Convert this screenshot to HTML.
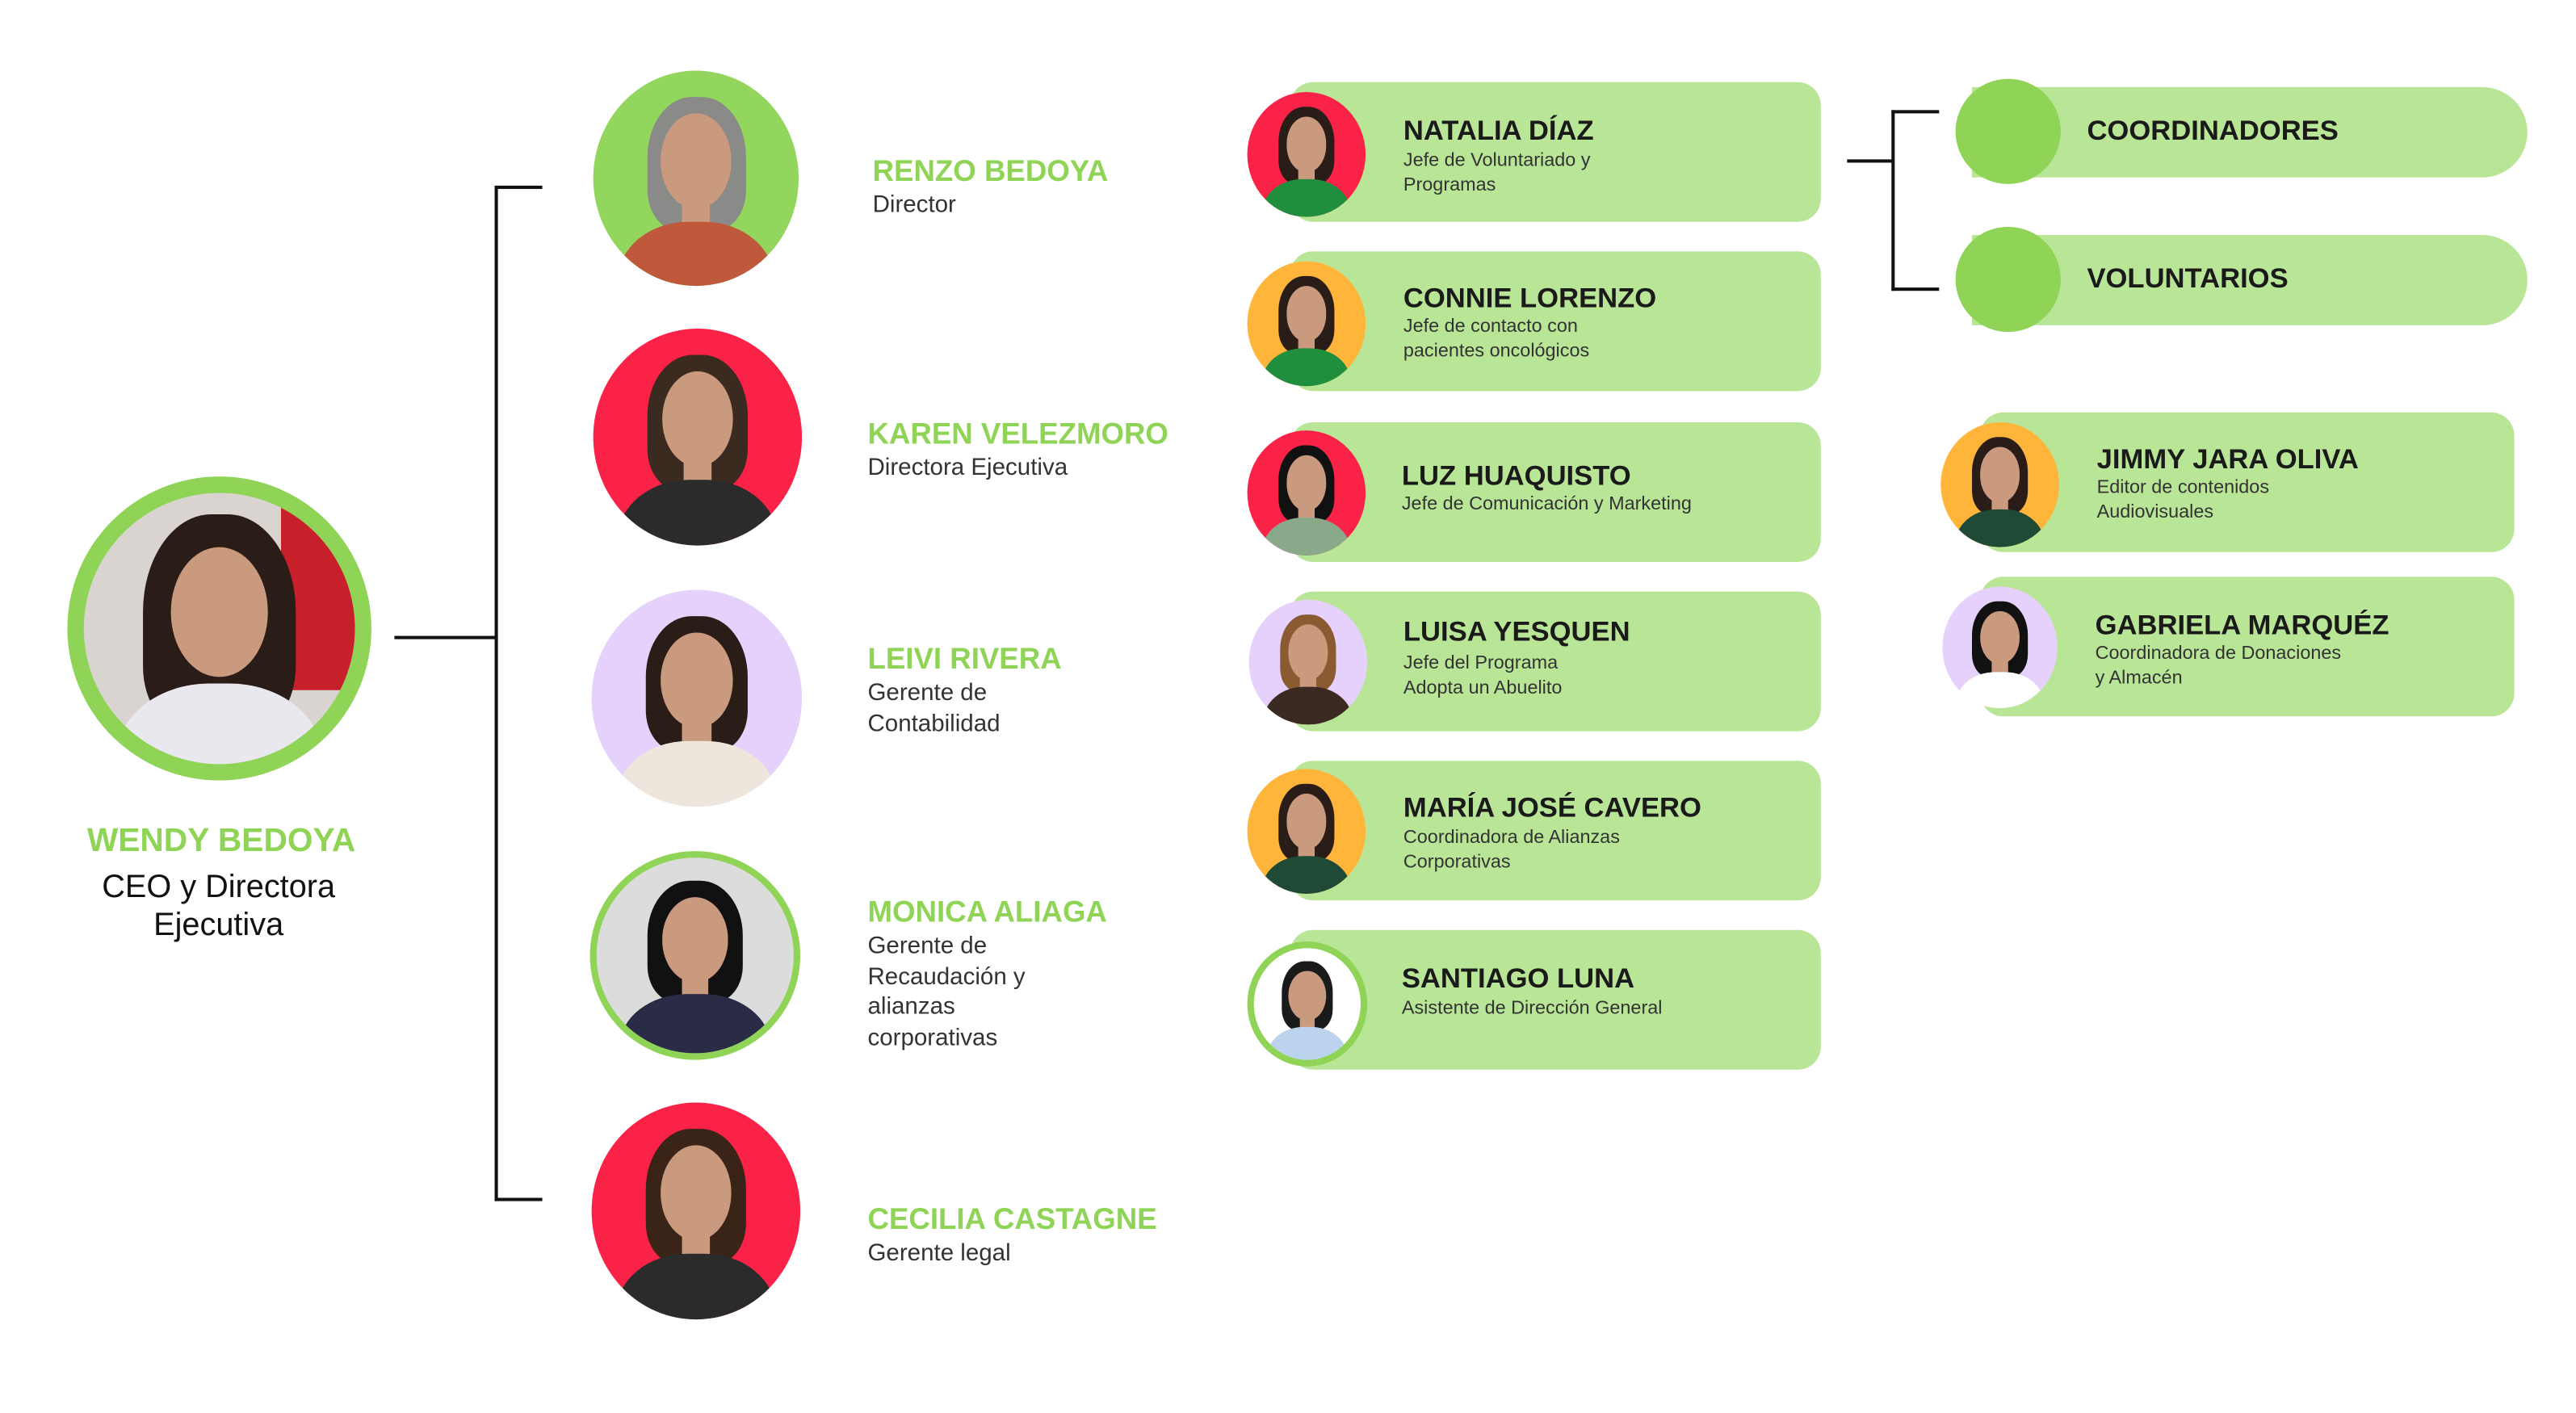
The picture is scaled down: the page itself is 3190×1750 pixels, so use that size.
<!DOCTYPE html>
<html><head><meta charset="utf-8"><style>
*{margin:0;padding:0;box-sizing:border-box}
html,body{width:3190px;height:1750px;overflow:hidden;background:#fff}
#s{position:absolute;left:0;top:0;width:1570px;height:860px;transform:scale(2.035);transform-origin:0 0;font-family:"Liberation Sans",sans-serif}
.a{position:absolute}
.ln{position:absolute;background:#111}
.ph{position:absolute;border-radius:50%;overflow:hidden}
.ph .hr{position:absolute;left:26%;top:12%;width:48%;height:62%;border-radius:45% 45% 30% 30%;background:#2a1d17}
.ph .h{position:absolute;left:33%;top:20%;width:34%;height:44%;border-radius:50%;background:#c99a7e}
.ph .b{position:absolute;left:12%;top:70%;width:76%;height:60%;border-radius:45% 45% 0 0;background:#2b2b2b}
.ph .nk{position:absolute;left:43%;top:58%;width:14%;height:16%;background:#c99a7e}
.nm{position:absolute;color:#8fd456;font-weight:bold;font-size:18px;white-space:nowrap}
.sb{position:absolute;color:#333;font-size:14.5px;line-height:18.5px}
.card{position:absolute;left:785px;width:323px;height:85px;background:#b8e596;border-radius:14px}
.card2{position:absolute;left:1205px;width:325px;height:85px;background:#b8e596;border-radius:14px}
.cn{position:absolute;font-weight:bold;font-size:17px;color:#1a1a1a;white-space:nowrap}
.cs{position:absolute;font-size:11.5px;color:#333;line-height:15px}
.pill{position:absolute;left:1200px;width:338px;height:55px;background:#b8e596;border-radius:0 28px 28px 0}
.dot{position:absolute;width:64px;height:64px;border-radius:50%;background:#8fd456}
.pt{position:absolute;font-weight:bold;font-size:17px;color:#1a1a1a}
</style></head><body><div id="s">

<div class="a" style="left:41px;top:290px;width:185px;height:185px;border-radius:50%;background:#8fd456"></div>
<div class="ph" style="left:51px;top:300px;width:165px;height:165px;background:#d9d4cf">
 <div class="a" style="left:120px;top:0;width:50px;height:120px;background:#c8202a"></div>
 <div class="hr" style="left:22%;top:8%;width:56%;height:80%"></div><div class="h" style="left:32%;top:20%;width:36%;height:48%"></div><div class="b" style="background:#e8e8ee"></div></div>
<div class="nm" style="left:53px;top:501px;font-size:20px">WENDY BEDOYA</div>
<div class="a" style="left:33px;top:529px;width:200px;text-align:center;font-size:19.5px;line-height:23px;color:#111">CEO y Directora<br>Ejecutiva</div>

<div class="ln" style="left:240px;top:387px;width:62px;height:1.5px"></div>
<div class="ln" style="left:301px;top:113px;width:1.5px;height:618px"></div>
<div class="ln" style="left:301px;top:113px;width:29px;height:1.5px"></div>
<div class="ln" style="left:301px;top:729px;width:29px;height:1.5px"></div>

<div class="ph" style="left:361px;top:43px;width:125px;height:131px;background:#93d65e"><div class="hr" style="background:#8a8a88"></div><div class="nk"></div><div class="h"></div><div class="b" style="background:#c0583c"></div></div>
<div class="nm" style="left:531px;top:94px">RENZO BEDOYA</div>
<div class="sb" style="left:531px;top:116px">Director</div>

<div class="ph" style="left:361px;top:200px;width:127px;height:132px;background:#fb2247"><div class="hr" style="background:#3a2a20"></div><div class="nk"></div><div class="h"></div><div class="b"></div></div>
<div class="nm" style="left:528px;top:254px">KAREN VELEZMORO</div>
<div class="sb" style="left:528px;top:276px">Directora Ejecutiva</div>

<div class="ph" style="left:360px;top:359px;width:128px;height:132px;background:#e5d1fb"><div class="hr"></div><div class="nk"></div><div class="h"></div><div class="b" style="background:#eee6dc"></div></div>
<div class="nm" style="left:528px;top:391px">LEIVI RIVERA</div>
<div class="sb" style="left:528px;top:413px">Gerente de<br>Contabilidad</div>

<div class="a" style="left:359px;top:518px;width:128px;height:127px;border-radius:50%;background:#8fd456"></div>
<div class="ph" style="left:363px;top:522px;width:120px;height:119px;background:#dcdcdc"><div class="hr" style="background:#111"></div><div class="nk"></div><div class="h"></div><div class="b" style="background:#2a2b45"></div></div>
<div class="nm" style="left:528px;top:545px">MONICA ALIAGA</div>
<div class="sb" style="left:528px;top:567px">Gerente de<br>Recaudación y<br>alianzas<br>corporativas</div>

<div class="ph" style="left:360px;top:671px;width:127px;height:132px;background:#fb2247"><div class="hr" style="background:#3a2418"></div><div class="nk"></div><div class="h"></div><div class="b"></div></div>
<div class="nm" style="left:528px;top:732px">CECILIA CASTAGNE</div>
<div class="sb" style="left:528px;top:754px">Gerente legal</div>

<div class="card" style="top:50px"></div>
<div class="ph" style="left:759px;top:56px;width:72px;height:76px;background:#fb2247"><div class="hr"></div><div class="nk"></div><div class="h"></div><div class="b" style="background:#1f8f3e"></div></div>
<div class="cn" style="left:854px;top:70px">NATALIA DÍAZ</div>
<div class="cs" style="left:854px;top:91px">Jefe de Voluntariado y<br>Programas</div>

<div class="card" style="top:153px"></div>
<div class="ph" style="left:759px;top:159px;width:72px;height:76px;background:#ffb43a"><div class="hr"></div><div class="nk"></div><div class="h"></div><div class="b" style="background:#1f8f3e"></div></div>
<div class="cn" style="left:854px;top:172px">CONNIE LORENZO</div>
<div class="cs" style="left:854px;top:192px">Jefe de contacto con<br>pacientes oncológicos</div>

<div class="card" style="top:257px"></div>
<div class="ph" style="left:759px;top:262px;width:72px;height:76px;background:#fb2247"><div class="hr" style="background:#111"></div><div class="nk"></div><div class="h"></div><div class="b" style="background:#8aa88a"></div></div>
<div class="cn" style="left:853px;top:280px">LUZ HUAQUISTO</div>
<div class="cs" style="left:853px;top:300px">Jefe de Comunicación y Marketing</div>

<div class="card" style="top:360px"></div>
<div class="ph" style="left:760px;top:365px;width:72px;height:76px;background:#e5d1fb"><div class="hr" style="background:#8a5a30"></div><div class="nk"></div><div class="h"></div><div class="b" style="background:#3a2a22"></div></div>
<div class="cn" style="left:854px;top:375px">LUISA YESQUEN</div>
<div class="cs" style="left:854px;top:397px">Jefe del Programa<br>Adopta un Abuelito</div>

<div class="card" style="top:463px"></div>
<div class="ph" style="left:759px;top:468px;width:72px;height:76px;background:#ffb43a"><div class="hr"></div><div class="nk"></div><div class="h"></div><div class="b" style="background:#1f4a35"></div></div>
<div class="cn" style="left:854px;top:482px">MARÍA JOSÉ CAVERO</div>
<div class="cs" style="left:854px;top:503px">Coordinadora de Alianzas<br>Corporativas</div>

<div class="card" style="top:566px"></div>
<div class="a" style="left:759px;top:573px;width:73px;height:76px;border-radius:50%;background:#8fd456"></div>
<div class="ph" style="left:763px;top:577px;width:65px;height:68px;background:#fff"><div class="hr" style="background:#1a1a1a"></div><div class="nk"></div><div class="h"></div><div class="b" style="background:#bcd3ee"></div></div>
<div class="cn" style="left:853px;top:586px">SANTIAGO LUNA</div>
<div class="cs" style="left:853px;top:607px">Asistente de Dirección General</div>

<div class="ln" style="left:1124px;top:97px;width:28px;height:1.5px"></div>
<div class="ln" style="left:1151px;top:67px;width:1.5px;height:110px"></div>
<div class="ln" style="left:1151px;top:67px;width:29px;height:1.5px"></div>
<div class="ln" style="left:1151px;top:175px;width:29px;height:1.5px"></div>

<div class="pill" style="top:53px"></div><div class="dot" style="left:1190px;top:48px"></div>
<div class="pt" style="left:1270px;top:70px">COORDINADORES</div>
<div class="pill" style="top:143px"></div><div class="dot" style="left:1190px;top:138px"></div>
<div class="pt" style="left:1270px;top:160px">VOLUNTARIOS</div>

<div class="card2" style="top:251px"></div>
<div class="ph" style="left:1181px;top:257px;width:72px;height:76px;background:#ffb43a"><div class="hr"></div><div class="nk"></div><div class="h"></div><div class="b" style="background:#1f4a35"></div></div>
<div class="cn" style="left:1276px;top:270px">JIMMY JARA OLIVA</div>
<div class="cs" style="left:1276px;top:290px">Editor de contenidos<br>Audiovisuales</div>

<div class="card2" style="top:351px"></div>
<div class="ph" style="left:1182px;top:357px;width:70px;height:74px;background:#e5d1fb"><div class="hr" style="background:#111"></div><div class="nk"></div><div class="h"></div><div class="b" style="background:#fff"></div></div>
<div class="cn" style="left:1275px;top:371px">GABRIELA MARQUÉZ</div>
<div class="cs" style="left:1275px;top:391px">Coordinadora de Donaciones<br>y Almacén</div>

</div></body></html>
